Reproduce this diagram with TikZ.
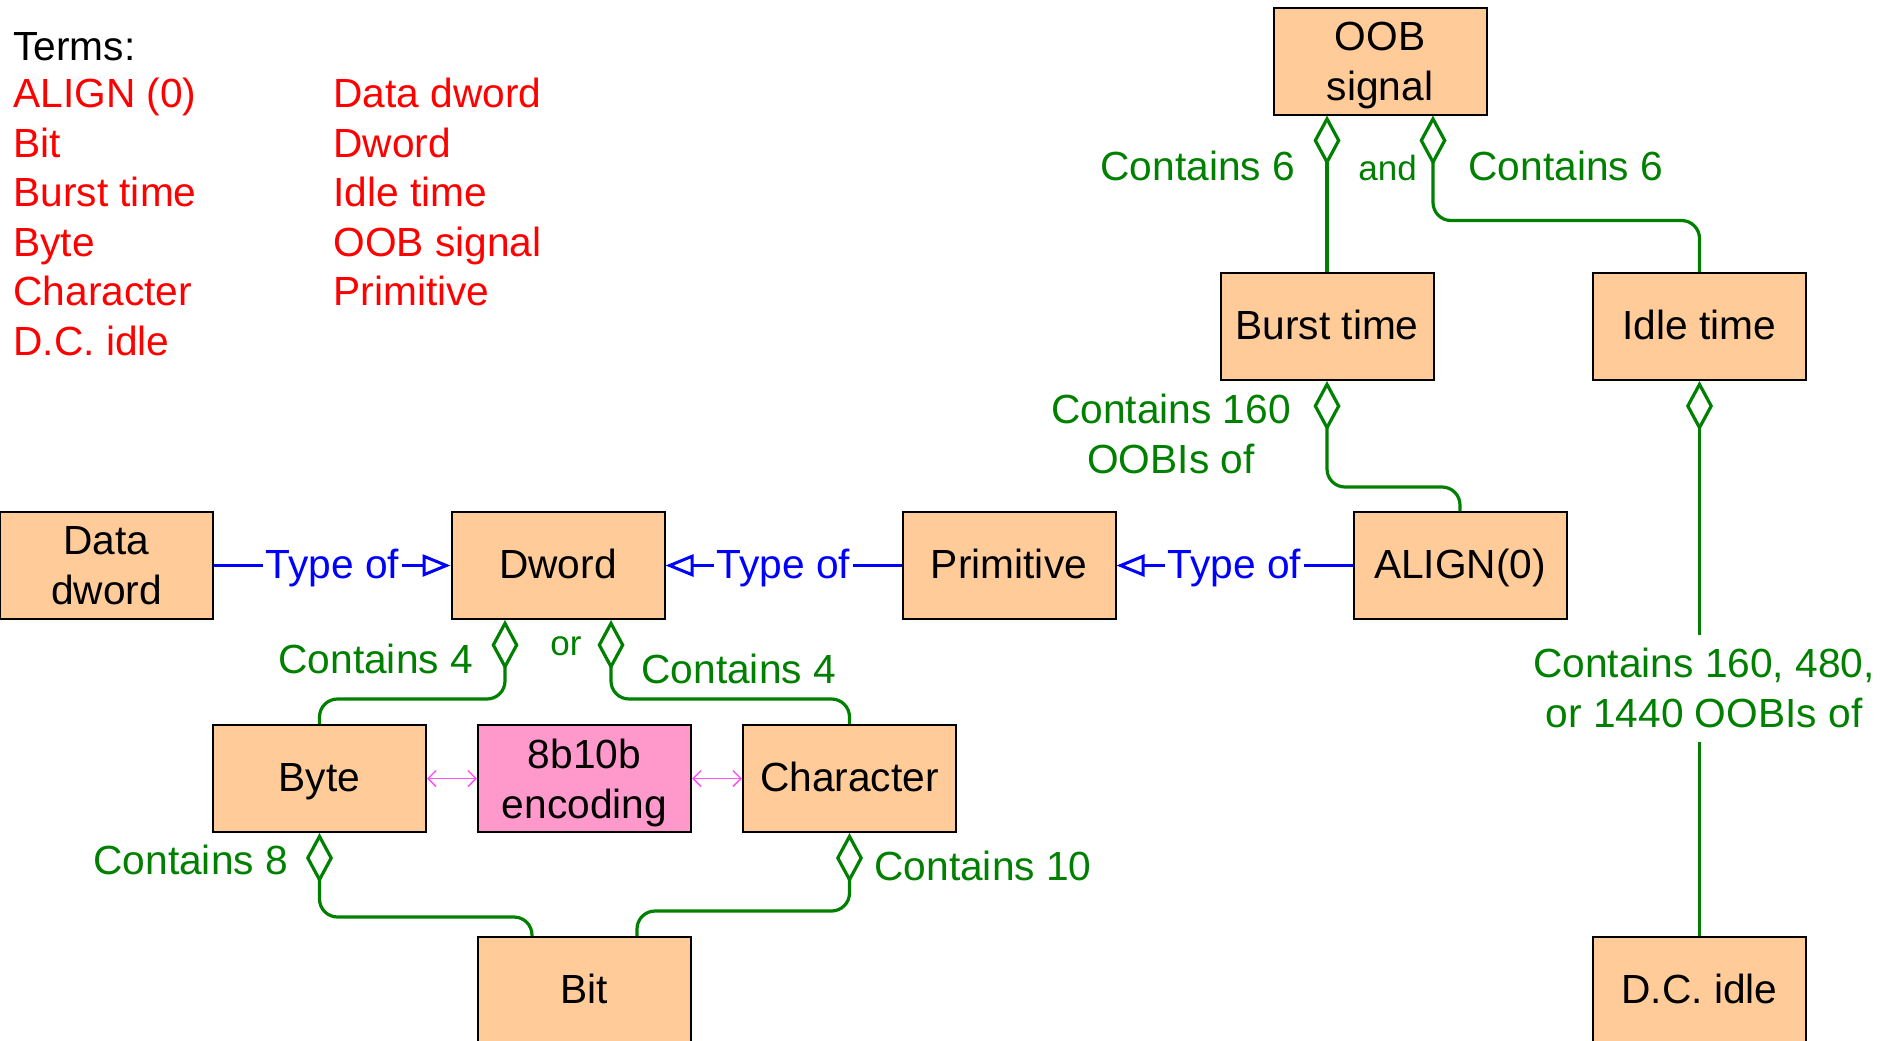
\documentclass[tikz,border=0pt]{standalone}
\usepackage{fontspec}
\setmainfont{Liberation Sans}
\usetikzlibrary{arrows.meta,calc}
\definecolor{peach}{HTML}{FFCC99}
\definecolor{pinkbox}{HTML}{FF99CC}
\definecolor{gr}{HTML}{008000}
\definecolor{bl}{HTML}{0000FF}
\definecolor{rd}{HTML}{FF0000}
\definecolor{mg}{HTML}{FF55FF}
\newcommand{\nodepth}[1]{\raisebox{0pt}[\height][0pt]{#1}}
\begin{document}
\begin{tikzpicture}[x=0.5pt,y=-0.5pt,
  every node/.style={font=\fontsize{20.35pt}{25pt}\selectfont, inner sep=0pt},
  box/.style={draw=black, line width=1pt, fill=peach, minimum width=106.5pt, minimum height=53.5pt, align=center},
  onebox/.style={box, text height=15pt, text depth=2pt},
  enc/.style={box, fill=pinkbox},
  term/.style={text=rd, anchor=base west},
  lbl/.style={text=gr, anchor=base west},
  small/.style={text=gr, anchor=base west, font=\fontsize{17.5pt}{21pt}\selectfont},
  typeof/.style={draw=bl, line width=1.5pt, -{Triangle[open, length=14pt, width=11pt]}},
  tlbl/.style={text=bl, fill=white, inner xsep=1.5pt, inner ysep=2pt, yshift=-1.2pt},
  agg/.style={draw=gr, line width=1.6pt, {Diamond[open, length=25pt, width=13.5pt]}-, rounded corners=9pt},
  gline/.style={draw=gr, line width=1.6pt},
  enclink/.style={draw=mg, line width=0.75pt, {Straight Barb[length=4pt, width=8pt]}-{Straight Barb[length=4pt, width=8pt]}}
]
\useasboundingbox (0,0) rectangle (1890,1040);

% Terms
\node[anchor=base west] (T0) at (13,60) {Terms:};
\node[term] (T1) at (13,107.5) {ALIGN (0)};
\node[term] (T2) at (13,157) {Bit};
\node[term] (T3) at (13,206.5) {Burst time};
\node[term] (T4) at (13,256) {Byte};
\node[term] (T5) at (13,305.5) {Character};
\node[term] (T6) at (13,355) {D.C. idle};
\node[term] (T7) at (333,107.5) {Data dword};
\node[term] (T8) at (333,157) {Dword};
\node[term] (T9) at (333,206.5) {Idle time};
\node[term] (T10) at (333,256) {OOB signal};
\node[term] (T11) at (333,305.5) {Primitive};

% Boxes
\node[box] (DD) at (106.5,565.5) {Data\\dword};
\node[onebox] (DW) at (558,565.5) {Dword};
\node[onebox] (PR) at (1009,565.5) {Primitive};
\node[onebox] (AL) at (1460,565.5) {ALIGN(0)};
\node[onebox] (BY) at (319.5,778.5) {Byte};
\node[enc] (EN) at (584.5,778.5) {8b10b\\\nodepth{encoding}};
\node[onebox] (CH) at (849.5,778.5) {Character};
\node[onebox] (BI) at (584.5,990.5) {Bit};
\node[onebox] (DC) at (1699.5,990.5) {D.C. idle};
\node[box] (OOB) at (1380,61) {OOB\\\nodepth{signal}};
\node[onebox] (BT) at (1327,326.5) {Burst time};
\node[onebox] (IT) at (1699.5,326.5) {Idle time};

% Type-of connectors
\draw[typeof] (DD.east) -- (DW.west) node[tlbl, midway] (Y1) {Type of};
\draw[typeof] (PR.west) -- (DW.east) node[tlbl, midway] (Y2) {Type of};
\draw[typeof] (AL.west) -- (PR.east) node[tlbl, midway] (Y3) {Type of};

% Aggregation connectors
\draw[agg] (OOB.south -| BT.north) -- (BT.north);
\draw[agg] ($(OOB.south)+(53,0)$) -- ++(0,105) -| (IT.north);
\draw[agg] (BT.south) -- ++(0,106) -| (AL.north);
\draw[agg] ($(DW.south)+(-53,0)$) -- ++(0,79) -| (BY.north);
\draw[agg] ($(DW.south)+(53,0)$) -- ++(0,79) -| (CH.north);
\draw[agg] (BY.south) -- ++(0,84) -| ($(BI.north)+(-52.5,0)$);
\draw[agg] (CH.south) -- ++(0,78) -| ($(BI.north)+(52.5,0)$);

% Labels
\node[lbl] (L1) at (1100,180) {Contains 6};
\node[small] (L2) at (1358,180) {and};
\node[lbl] (L3) at (1468,180) {Contains 6};
\node[text=gr, align=center, anchor=north] (L4) at (1171,394) {Contains 160\\OOBIs of};
\node[text=gr, align=center, anchor=north, inner ysep=6.5pt] (L7) at (1704,635) {Contains 160, 480,\\or 1440 OOBIs of};
\node[lbl] (L5) at (278,673) {Contains 4};
\node[small] (L6) at (550,655) {or};
\node[lbl] (L6b) at (641,683) {Contains 4};
\node[lbl] (L8) at (93,874) {Contains 8};
\node[lbl] (L9) at (874,880) {Contains 10};

\draw[agg] (IT.south) -- (IT.south |- L7.north);
\draw[gline] (DC.north) -- (DC.north |- L7.south);

% 8b10b links
\draw[enclink] (BY.east) -- (EN.west);
\draw[enclink] (EN.east) -- (CH.west);
\end{tikzpicture}
\end{document}
